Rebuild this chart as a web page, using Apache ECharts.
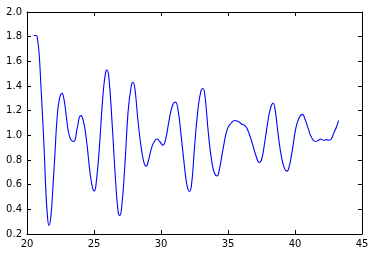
<!DOCTYPE html>
<html><head><meta charset="utf-8">
<script src="https://cdn.jsdelivr.net/npm/echarts@6/dist/echarts.min.js"></script>
<style>html,body{margin:0;padding:0;background:#fff}#c{width:373px;height:256px}</style>
</head><body><div id="c"></div>
<script>
const xTicks = [20, 25, 30, 35, 40, 45];
const yTicks = [0.2, 0.4, 0.6, 0.8, 1.0, 1.2, 1.4, 1.6, 1.8, 2.0];
const xs = [20.50,20.70,20.78,20.90,21.04,21.17,21.29,21.39,21.51,21.64,21.78,21.94,22.09,22.24,22.41,22.61,22.78,22.96,23.18,23.48,23.75,24.00,24.20,24.45,24.70,24.90,25.02,25.15,25.40,25.65,25.85,25.97,26.10,26.35,26.60,26.80,26.91,27.05,27.30,27.55,27.78,27.91,28.05,28.30,28.55,28.75,28.88,29.05,29.30,29.50,29.70,29.90,30.15,30.35,30.60,30.85,31.07,31.25,31.50,31.75,31.95,32.13,32.28,32.50,32.75,32.98,33.13,33.28,33.55,33.80,34.00,34.18,34.35,34.65,34.95,35.25,35.50,35.80,36.05,36.25,36.45,36.80,37.10,37.34,37.50,37.75,38.00,38.20,38.36,38.50,38.75,39.00,39.22,39.40,39.55,39.80,40.05,40.30,40.55,40.75,41.00,41.25,41.52,41.75,41.90,42.15,42.35,42.54,42.70,42.90,43.10,43.25];
const ys = [1.81,1.81,1.78,1.67,1.40,1.13,0.86,0.59,0.37,0.27,0.34,0.59,0.86,1.13,1.29,1.34,1.28,1.13,0.99,0.95,1.06,1.16,1.12,0.95,0.70,0.57,0.55,0.60,0.90,1.30,1.50,1.53,1.48,1.10,0.65,0.38,0.35,0.40,0.75,1.20,1.40,1.43,1.38,1.10,0.88,0.77,0.75,0.79,0.90,0.95,0.97,0.95,0.92,0.97,1.12,1.24,1.27,1.22,1.00,0.75,0.59,0.545,0.60,0.90,1.20,1.36,1.38,1.32,1.00,0.78,0.69,0.67,0.72,0.90,1.05,1.10,1.12,1.11,1.09,1.08,1.05,0.94,0.83,0.78,0.80,0.95,1.13,1.23,1.26,1.22,1.00,0.82,0.73,0.71,0.74,0.88,1.05,1.14,1.17,1.13,1.05,0.98,0.95,0.96,0.97,0.96,0.965,0.96,0.97,1.02,1.07,1.12];

const data = xs.map((x, i) => [x, ys[i]]);
const font = {fontFamily: 'DejaVu Sans', fontSize: 10, color: '#000'};
const line = {show: true, lineStyle: {color: '#000', width: 1}};
const tick = {show: true, inside: true, length: 4, lineStyle: {color: '#000', width: 1}};
const chart = echarts.init(document.getElementById('c'), null, {renderer: 'canvas'});
chart.setOption({
  animation: false,
  grid: {left: 27, top: 12, width: 335, height: 222},
  xAxis: [
    {type: 'value', min: xTicks[0], max: xTicks[xTicks.length-1], interval: 5, position: 'bottom',
     axisLine: line, axisTick: tick, splitLine: {show: false},
     axisLabel: Object.assign({margin: 5, formatter: v => String(v)}, font)},
    {type: 'value', min: xTicks[0], max: xTicks[xTicks.length-1], interval: 5, position: 'top',
     axisLine: line, axisTick: tick, splitLine: {show: false}, axisLabel: {show: false}}
  ],
  yAxis: [
    {type: 'value', min: yTicks[0], max: yTicks[yTicks.length-1], interval: 0.2, position: 'left',
     axisLine: line, axisTick: tick, splitLine: {show: false},
     axisLabel: Object.assign({margin: 5, formatter: v => v.toFixed(1)}, font)},
    {type: 'value', min: yTicks[0], max: yTicks[yTicks.length-1], interval: 0.2, position: 'right',
     axisLine: line, axisTick: tick, splitLine: {show: false}, axisLabel: {show: false}}
  ],
  series: [{
    type: 'line', data: data, xAxisIndex: 0, yAxisIndex: 0,
    showSymbol: false, smooth: 0.5,
    lineStyle: {color: '#0000ff', width: 1.1}
  }]
});
</script></body></html>
